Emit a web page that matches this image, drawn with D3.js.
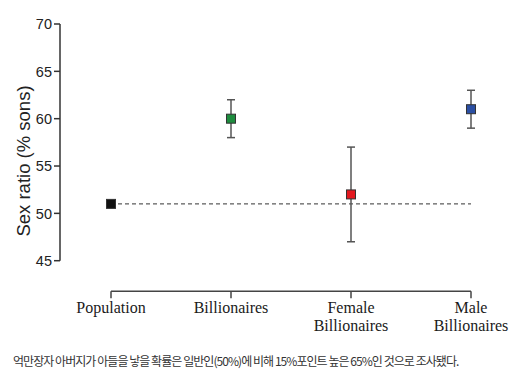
<html><head>
<meta charset="utf-8">
<script src="https://d3js.org/d3.v7.min.js"></script>
<style>
  body { margin: 0; background: #fff; }
  text.tick { font-family: "Liberation Sans", Arial, sans-serif; font-size: 14.5px; fill: #222; text-anchor: end; }
  text.cat { font-family: "Liberation Serif", "Times New Roman", serif; font-size: 16px; fill: #1a1a1a; text-anchor: middle; }
  text.caption { font-family: "Noto Sans CJK KR", sans-serif; font-size: 12px; fill: #333; letter-spacing: -0.95px; }
</style>
</head>
<body>
<svg id="chart" width="524" height="380"></svg>
<script>
// data
const groups = [["Population"], ["Billionaires"], ["Female", "Billionaires"], ["Male", "Billionaires"]];
const ratio = [51, 60, 52, 61];
const lower = [null, 58, 47, 59];
const upper = [null, 62, 57, 63];
const colors = ["#111111", "#1e8c3e", "#e3181f", "#2b4fa3"];
const yTicks = [45, 50, 55, 60, 65, 70];
const caption = "억만장자 아버지가 아들을 낳을 확률은 일반인(50%)에 비해 15%포인트 높은 65%인 것으로 조사됐다.";

const svg = d3.select("#chart");

const y = d3.scaleLinear().domain([45, 70]).range([260.7, 24]);
const x = d3.scalePoint().domain(d3.range(groups.length)).range([111, 471]);

// y axis
svg.append("line")
   .attr("x1", 60).attr("x2", 60)
   .attr("y1", y(70)).attr("y2", y(45))
   .attr("stroke", "#333").attr("stroke-width", 1.5);
svg.selectAll("line.ytick").data(yTicks)
   .join("line")
   .attr("class", "ytick")
   .attr("x1", 54).attr("x2", 60)
   .attr("y1", d => y(d)).attr("y2", d => y(d))
   .attr("stroke", "#333").attr("stroke-width", 1.5);
svg.selectAll("text.tick").data(yTicks)
   .join("text")
   .attr("class", "tick")
   .attr("x", 52)
   .attr("y", d => y(d))
   .attr("dy", "0.36em")
   .text(d => d);

svg.append("text")
   .attr("transform", "translate(30," + 161 + ") rotate(-90)")
   .attr("text-anchor", "middle")
   .style("font-family", "'Liberation Sans', Arial, sans-serif")
   .style("font-size", "18.5px")
   .style("fill", "#222")
   .text("Sex ratio (% sons)");

// x axis
const axisY = 291.3;
svg.append("line")
   .attr("x1", x(0)).attr("x2", x(groups.length - 1))
   .attr("y1", axisY).attr("y2", axisY)
   .attr("stroke", "#444").attr("stroke-width", 1.5);
svg.selectAll("line.xtick").data(groups)
   .join("line")
   .attr("class", "xtick")
   .attr("x1", (d, i) => x(i)).attr("x2", (d, i) => x(i))
   .attr("y1", axisY).attr("y2", axisY + 7)
   .attr("stroke", "#444").attr("stroke-width", 1.5);

// one text per label line
const catLines = [];
groups.forEach((g, i) => g.forEach((t, j) => catLines.push({ i: i, j: j, t: t })));
svg.selectAll("text.cat").data(catLines)
   .join("text")
   .attr("class", "cat")
   .attr("x", d => x(d.i))
   .attr("y", d => 313 + d.j * 18)
   .text(d => d.t);

// reference line at the population value
svg.append("line")
   .attr("x1", x(0)).attr("x2", x(groups.length - 1))
   .attr("y1", y(ratio[0])).attr("y2", y(ratio[0]))
   .attr("stroke", "#333").attr("stroke-width", 1)
   .attr("stroke-dasharray", "4,3");

// error bars
const withErr = d3.range(groups.length).filter(i => lower[i] !== null);
svg.selectAll("line.err").data(withErr)
   .join("line")
   .attr("class", "err")
   .attr("x1", i => x(i)).attr("x2", i => x(i))
   .attr("y1", i => y(lower[i])).attr("y2", i => y(upper[i]))
   .attr("stroke", "#555").attr("stroke-width", 1.5);
svg.selectAll("line.capLo").data(withErr)
   .join("line")
   .attr("class", "capLo")
   .attr("x1", i => x(i) - 4).attr("x2", i => x(i) + 4)
   .attr("y1", i => y(lower[i])).attr("y2", i => y(lower[i]))
   .attr("stroke", "#555").attr("stroke-width", 1.5);
svg.selectAll("line.capHi").data(withErr)
   .join("line")
   .attr("class", "capHi")
   .attr("x1", i => x(i) - 4).attr("x2", i => x(i) + 4)
   .attr("y1", i => y(upper[i])).attr("y2", i => y(upper[i]))
   .attr("stroke", "#555").attr("stroke-width", 1.5);

// markers
const s = 9;
svg.selectAll("rect.pt").data(ratio)
   .join("rect")
   .attr("class", "pt")
   .attr("x", (d, i) => x(i) - s / 2)
   .attr("y", d => y(d) - s / 2)
   .attr("width", s).attr("height", s)
   .attr("fill", (d, i) => colors[i])
   .attr("stroke", "#333").attr("stroke-width", 1);

// caption
svg.append("text")
   .attr("class", "caption")
   .attr("x", 13)
   .attr("y", 366)
   .text(caption);
</script>
</body>
</html>
